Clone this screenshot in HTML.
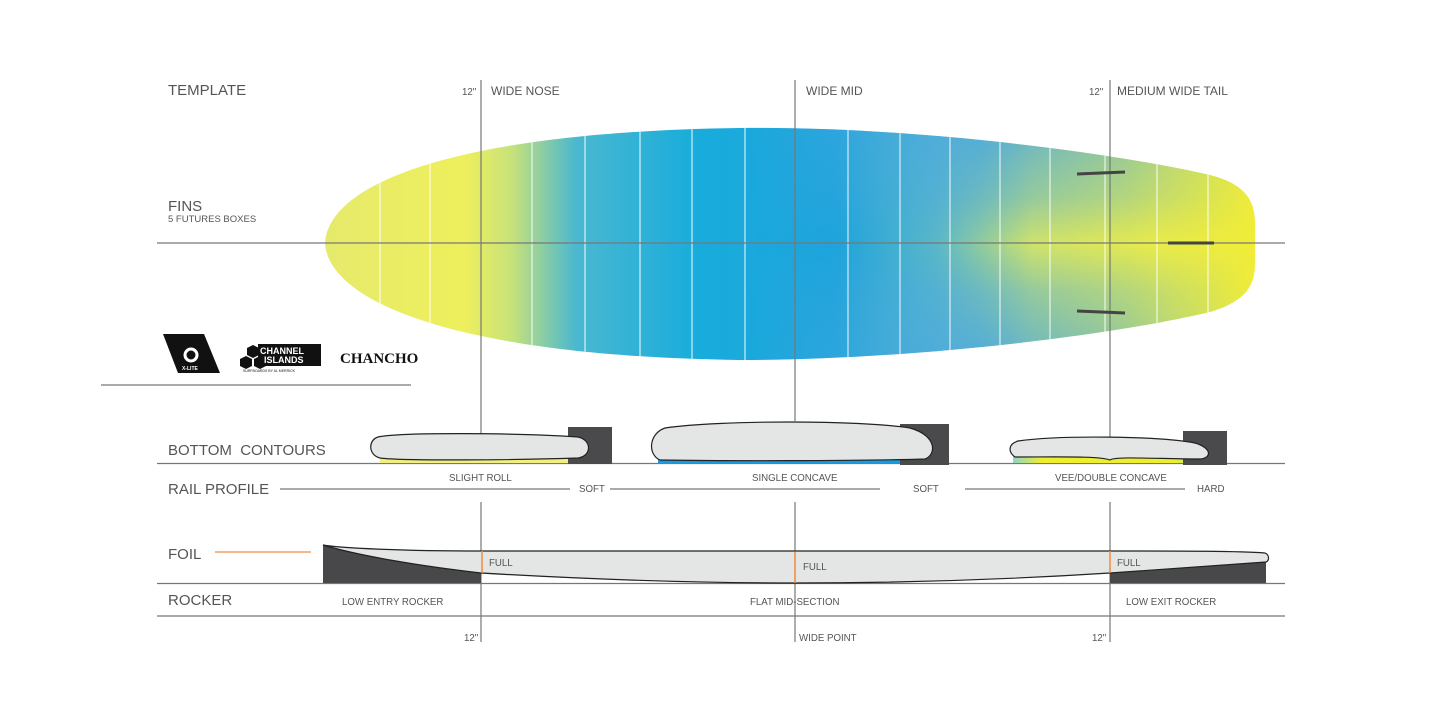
<!DOCTYPE html>
<html><head><meta charset="utf-8"><style>
html,body{margin:0;padding:0;background:#fff;}
svg{display:block;}
text{font-family:"Liberation Sans",sans-serif;fill:#555;}
</style></head><body>
<svg width="1445" height="708" viewBox="0 0 1445 708" xmlns="http://www.w3.org/2000/svg">
<defs>
<linearGradient id="h" x1="325" x2="1255" y1="0" y2="0" gradientUnits="userSpaceOnUse">
<stop offset="0" stop-color="#e6ea6c"/>
<stop offset="0.15" stop-color="#eeef5c"/>
<stop offset="0.2" stop-color="#c8e27a"/>
<stop offset="0.27" stop-color="#4ab8d0"/>
<stop offset="0.4" stop-color="#18acdc"/>
<stop offset="0.55" stop-color="#1ea4dc"/>
<stop offset="0.66" stop-color="#5cb8c8"/>
<stop offset="0.76" stop-color="#cfe36c"/>
<stop offset="0.9" stop-color="#eaec48"/>
<stop offset="1" stop-color="#f0ec38"/>
</linearGradient>
<linearGradient id="v" x1="0" x2="0" y1="128" y2="360" gradientUnits="userSpaceOnUse">
<stop offset="0" stop-color="#4aa8e0" stop-opacity="0.9"/>
<stop offset="0.3" stop-color="#4aa8e0" stop-opacity="0.5"/>
<stop offset="0.5" stop-color="#4aa8e0" stop-opacity="0"/>
<stop offset="0.7" stop-color="#4aa8e0" stop-opacity="0.5"/>
<stop offset="1" stop-color="#4aa8e0" stop-opacity="0.9"/>
</linearGradient>
<linearGradient id="mh" x1="750" x2="1255" y1="0" y2="0" gradientUnits="userSpaceOnUse">
<stop offset="0" stop-color="#fff" stop-opacity="0"/>
<stop offset="0.45" stop-color="#fff" stop-opacity="1"/>
<stop offset="0.75" stop-color="#fff" stop-opacity="0.6"/>
<stop offset="1" stop-color="#fff" stop-opacity="0"/>
</linearGradient>
<mask id="m"><rect x="0" y="0" width="1445" height="708" fill="url(#mh)"/></mask>
<clipPath id="bc"><path d="M325,243 C328,185 450,132 740,128 C900,126 1100,150 1210,175 C1250,185 1255,205 1255,225 L1255,262 C1255,282 1250,300 1210,312 C1100,338 900,360 740,360 C450,356 328,300 325,243 Z"/></clipPath>
<linearGradient id="vd" x1="1013" x2="1205" y1="0" y2="0" gradientUnits="userSpaceOnUse">
<stop offset="0" stop-color="#8fd6c8"/><stop offset="0.15" stop-color="#eeee30"/><stop offset="0.85" stop-color="#eeee30"/><stop offset="1" stop-color="#8fd6c8"/>
</linearGradient>
</defs>

<g clip-path="url(#bc)">
<rect x="320" y="120" width="940" height="245" fill="url(#h)"/>
<rect x="320" y="120" width="940" height="245" fill="url(#v)" mask="url(#m)"/>
<g stroke="#fff" stroke-width="1.2" opacity="0.8">
<line x1="380" y1="120" x2="380" y2="365"/><line x1="430" y1="120" x2="430" y2="365"/>
<line x1="532" y1="120" x2="532" y2="365"/><line x1="585" y1="120" x2="585" y2="365"/>
<line x1="640" y1="120" x2="640" y2="365"/><line x1="692" y1="120" x2="692" y2="365"/>
<line x1="745" y1="120" x2="745" y2="365"/><line x1="848" y1="120" x2="848" y2="365"/>
<line x1="900" y1="120" x2="900" y2="365"/><line x1="950" y1="120" x2="950" y2="365"/>
<line x1="1000" y1="120" x2="1000" y2="365"/><line x1="1050" y1="120" x2="1050" y2="365"/>
<line x1="1105" y1="120" x2="1105" y2="365"/><line x1="1157" y1="120" x2="1157" y2="365"/>
<line x1="1208" y1="120" x2="1208" y2="365"/>
</g>
</g>

<g stroke="#777" stroke-width="1.2">
<line x1="481" y1="80" x2="481" y2="463"/><line x1="795" y1="80" x2="795" y2="421"/><line x1="1110" y1="80" x2="1110" y2="463"/>
<line x1="481" y1="502" x2="481" y2="642"/><line x1="795" y1="502" x2="795" y2="642"/><line x1="1110" y1="502" x2="1110" y2="642"/>
<line x1="157" y1="243" x2="1285" y2="243"/>
<line x1="101" y1="385" x2="411" y2="385"/>
<line x1="157" y1="463.5" x2="1285" y2="463.5"/>
<line x1="280" y1="489" x2="570" y2="489"/><line x1="610" y1="489" x2="880" y2="489"/><line x1="965" y1="489" x2="1185" y2="489"/>
<line x1="157" y1="583.5" x2="1285" y2="583.5"/>
<line x1="157" y1="616" x2="1285" y2="616"/>
</g>
<line x1="215" y1="552" x2="311" y2="552" stroke="#f08a3c" stroke-width="1.2"/>

<g stroke="#444" stroke-width="3">
<line x1="1077" y1="174" x2="1125" y2="172"/><line x1="1077" y1="311" x2="1125" y2="313"/><line x1="1168" y1="243" x2="1214" y2="243"/>
</g>

<rect x="380" y="457" width="190" height="6" fill="#f0ef80"/>
<rect x="568" y="427" width="44" height="37" fill="#4a4a4c"/>
<path d="M378,437 C400,432 520,433 578,437 C592,440 592,456 578,458 C520,460 400,461 380,458 C368,455 368,440 378,437 Z" fill="#e4e5e5" stroke="#222" stroke-width="1.2"/>

<rect x="658" y="459" width="272" height="4.5" fill="#1a9ae0"/>
<rect x="900" y="424" width="49" height="41" fill="#4a4a4c"/>
<path d="M665,428 C720,420 860,420 910,428 C938,436 936,455 925,459 C860,461 720,461 660,460 C648,455 648,434 665,428 Z" fill="#e4e5e5" stroke="#222" stroke-width="1.2"/>

<rect x="1013" y="456" width="192" height="7" fill="url(#vd)"/>
<rect x="1183" y="431" width="44" height="34" fill="#4a4a4c"/>
<path d="M1018,441 C1060,435 1160,436 1195,443 C1212,448 1212,458 1200,459 C1160,459 1115,456 1110,460 C1100,456 1060,457 1015,457 C1008,452 1008,444 1018,441 Z" fill="#e4e5e5" stroke="#222" stroke-width="1.2"/>

<path d="M323,545 C360,556 420,566 481,573 L481,583 L323,583 Z" fill="#48484a"/>
<path d="M1110,573 C1170,568 1230,564 1266,562 L1266,583 L1110,583 Z" fill="#48484a"/>
<path d="M323,545 C340,548 400,551 481,551 L1110,551 C1180,551 1240,551 1265,553 C1270,555 1269,561 1266,562 C1220,565 1170,569 1110,573 C1000,580 900,583 795,583 C700,583 600,580 481,573 C420,566 360,556 323,545 Z" fill="#e4e5e5" stroke="#222" stroke-width="1.2"/>
<g stroke="#f08a3c" stroke-width="1.5">
<line x1="482" y1="551" x2="482" y2="573"/><line x1="795" y1="552" x2="795" y2="583"/><line x1="1110" y1="551" x2="1110" y2="573"/>
</g>

<polygon points="163,334 204,334 220,373 178,373" fill="#111"/>
<circle cx="191" cy="355" r="6" fill="none" stroke="#fff" stroke-width="3"/>
<text x="182" y="370" font-size="5" style="fill:#fff" font-weight="bold">X-LITE</text>
<g fill="#111">
<polygon points="247,348 253,345 259,348 259,355 253,358 247,355"/>
<polygon points="240,359 246,356 252,359 252,366 246,369 240,366"/>
<polygon points="254,359 260,356 266,359 266,366 260,369 254,366"/>
<rect x="258" y="344" width="63" height="22"/>
</g>
<text x="260" y="354" font-size="9" font-weight="bold" style="fill:#fff">CHANNEL</text>
<text x="264" y="363" font-size="9" font-weight="bold" style="fill:#fff">ISLANDS</text>
<text x="243" y="372" font-size="3.5" style="fill:#111">SURFBOARDS BY AL MERRICK</text>
<text x="340" y="363" font-size="15" font-weight="bold" style="fill:#111;font-family:'Liberation Serif',serif">CHANCHO</text>

<g font-size="15">
<text x="168" y="95">TEMPLATE</text>
<text x="168" y="211">FINS</text>
<text x="168" y="455">BOTTOM&#160; CONTOURS</text>
<text x="168" y="494">RAIL PROFILE</text>
<text x="168" y="559">FOIL</text>
<text x="168" y="605">ROCKER</text>
</g>
<text x="168" y="222" font-size="9.5">5 FUTURES BOXES</text>
<g font-size="12">
<text x="491" y="95">WIDE NOSE</text>
<text x="806" y="95">WIDE MID</text>
<text x="1117" y="95">MEDIUM WIDE TAIL</text>
</g>
<g font-size="9.7">
<text x="462" y="95">12"</text>
<text x="1089" y="95">12"</text>
<text x="449" y="481">SLIGHT ROLL</text>
<text x="579" y="492">SOFT</text>
<text x="752" y="481">SINGLE CONCAVE</text>
<text x="913" y="492">SOFT</text>
<text x="1055" y="481">VEE/DOUBLE CONCAVE</text>
<text x="1197" y="492">HARD</text>
<text x="489" y="566">FULL</text>
<text x="803" y="570">FULL</text>
<text x="1117" y="566">FULL</text>
<text x="342" y="605">LOW ENTRY ROCKER</text>
<text x="750" y="605">FLAT MID-SECTION</text>
<text x="1126" y="605">LOW EXIT ROCKER</text>
<text x="464" y="641">12"</text>
<text x="799" y="641">WIDE POINT</text>
<text x="1092" y="641">12"</text>
</g>
</svg>
</body></html>
